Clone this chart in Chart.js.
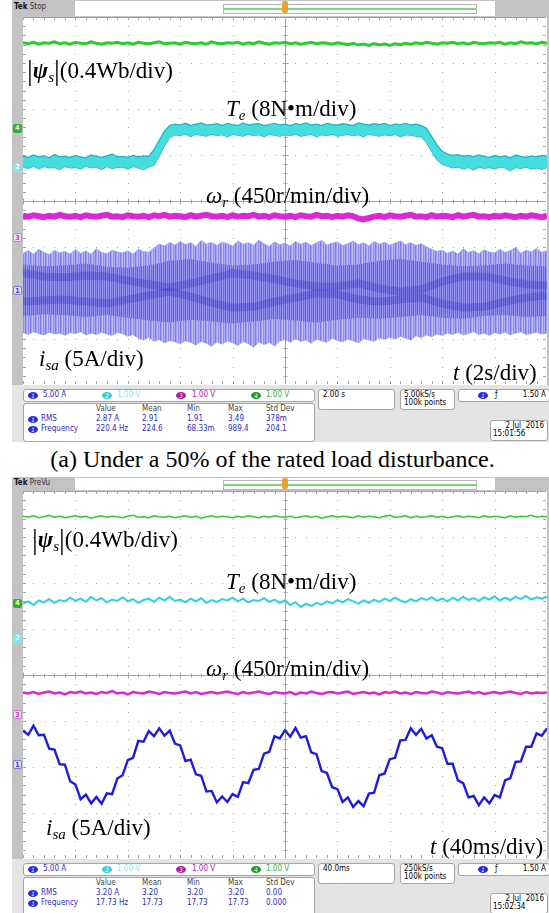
<!DOCTYPE html>
<html lang="en">
<head>
<meta charset="UTF-8">
<title>Load disturbance - scope captures</title>
<script src="https://cdn.jsdelivr.net/npm/chart.js"></script>
<style>
    body { margin: 0; width: 549px; height: 913px; position: relative; overflow: hidden; background: #fff; }
    .panel { position: absolute; left: 12px; width: 537px; background: #c3c3c3; overflow: hidden;
             font-family: "DejaVu Sans", sans-serif; font-stretch: condensed; font-size: 8px; }
    .panel canvas { position: absolute; left: 11px; background: #fff; }
    .hdrWhite { position: absolute; left: 63px; top: 1px; width: 420px; background: #fff; }
    .zoomBox { position: absolute; left: 148px; top: 3px; width: 252px; height: 8px; border: 1px solid #b8b8b8; }
    .zoomBox div { position: absolute; left: 0; right: 0; top: 3px; height: 2px; background: #7fd67f; }
    .trig { position: absolute; left: 270px; top: 1px; width: 6px; height: 12px; background: #f0a028; border-radius: 2px; }
    .tek { position: absolute; left: 2px; top: 2px; color: #333; }
    .tek b { color: #111; }
    .info { position: absolute; left: 0; width: 537px; height: 60px; background: #e4e4e4; }
    .box { position: absolute; background: #fff; border: 1px solid #a4a4a4; border-radius: 3px; }
    .box span { position: absolute; white-space: nowrap; line-height: 10px; }
    .ov { display: inline-block; width: 10px; height: 7px; border-radius: 50%; color: #fff; font-size: 6px;
          line-height: 7px; text-align: center; }
    .hd { color: #444; }
    .bl { color: #2e2ec4; }
    .mk { position: absolute; left: 1px; width: 9px; height: 9px; border-radius: 2px; font-size: 7px;
          line-height: 9px; text-align: center; font-weight: bold; box-sizing: border-box; }
    .lbl { position: absolute; font-family: "Liberation Serif", "Times New Roman", serif; font-size: 23px;
           line-height: 25px; white-space: nowrap; color: #000; }
    .lbl sub { font-size: 15px; vertical-align: -4px; line-height: 0; }
    .lbl .bar { font-size: 29px; vertical-align: -2px; line-height: 0; }
    #cap { position: absolute; left: 0; width: 545px; text-align: center; top: 446px;
           font-family: "Liberation Serif", "Times New Roman", serif; font-size: 24px; white-space: nowrap; }
</style>
</head>
<body>

<!-- (a) 2 s/div capture -->
<div class="panel" style="top:0;height:442px">
    <div class="hdrWhite" style="height:15px"><div class="zoomBox"><div></div></div></div>
    <div class="trig"></div>
    <div class="tek"><b>Tek</b> Stop</div>
    <canvas id="scopeTop" width="524" height="368" style="top:17px"></canvas>
    <div class="mk" style="top:124px;background:#2fb02f;color:#fff">4</div>
    <div class="mk" style="top:163px;background:#86e4ee;color:#fff">2</div>
    <div class="mk" style="top:233px;background:#f6dcf4;border:1px solid #d27ad0;color:#c040c0">3</div>
    <div class="mk" style="top:286px;background:#dedef8;border:1px solid #7a7ad6;color:#4040c0">1</div>
    <div class="info" style="top:385px">
        <div class="box" style="left:11px;top:4px;width:290px;height:11px">
            <span style="left:4px;top:1px"><i class="ov" style="background:#2a2ad8">1</i></span>
            <span style="left:19px;top:0" class="bl">5.00 A</span>
            <span style="left:78px;top:1px"><i class="ov" style="background:#36d0d8">2</i></span>
            <span style="left:93px;top:0;color:#8ee6ee">1.00 V</span>
            <span style="left:152px;top:1px"><i class="ov" style="background:#b0209e">3</i></span>
            <span style="left:168px;top:0;color:#b42aa8">1.00 V</span>
            <span style="left:227px;top:1px"><i class="ov" style="background:#239b23">4</i></span>
            <span style="left:242px;top:0;color:#38b038">1.00 V</span>
        </div>
        <div class="box" style="left:306px;top:4px;width:75px;height:19px"><span style="left:4px;top:0">2.00 s</span></div>
        <div class="box" style="left:388px;top:4px;width:53px;height:19px">
            <span style="left:3px;top:0">5.00kS/s</span><span style="left:3px;top:8px">100k points</span>
        </div>
        <div class="box" style="left:446px;top:4px;width:90px;height:11px">
            <span style="left:19px;top:1px"><i class="ov" style="background:#2a2ad8">1</i></span>
            <span style="left:36px;top:0">ƒ</span><span style="right:3px;top:0">1.50 A</span>
        </div>
        <div class="box" style="left:11px;top:18px;width:290px;height:37px">
            <span class="hd" style="left:72px;top:0">Value</span><span class="hd" style="left:118px;top:0">Mean</span>
            <span class="hd" style="left:163px;top:0">Min</span><span class="hd" style="left:204px;top:0">Max</span>
            <span class="hd" style="left:242px;top:0">Std Dev</span>
            <span style="left:4px;top:11px"><i class="ov" style="background:#2a2ad8">1</i></span>
            <span class="bl" style="left:17px;top:10px">RMS</span>
            <span class="bl" style="left:72px;top:10px">2.87 A</span><span class="bl" style="left:118px;top:10px">2.91</span>
            <span class="bl" style="left:163px;top:10px">1.91</span><span class="bl" style="left:204px;top:10px">3.49</span>
            <span class="bl" style="left:242px;top:10px">378m</span>
            <span style="left:4px;top:21px"><i class="ov" style="background:#2a2ad8">1</i></span>
            <span class="bl" style="left:17px;top:20px">Frequency</span>
            <span class="bl" style="left:72px;top:20px">220.4 Hz</span><span class="bl" style="left:118px;top:20px">224.6</span>
            <span class="bl" style="left:163px;top:20px">68.33m</span><span class="bl" style="left:204px;top:20px">989.4</span>
            <span class="bl" style="left:242px;top:20px">204.1</span>
        </div>
        <div class="box" style="left:478px;top:35px;width:56px;height:19px">
            <span style="right:3px;top:0">2 Jul&nbsp; 2016</span><span style="left:2px;top:8px">15:01:56</span>
        </div>
    </div>
</div>

<div class="lbl" style="left:27px;top:58px"><span class="bar">|</span><b><i>ψ</i></b><sub><i>s</i></sub><span class="bar">|</span>(0.4Wb/div)</div>
<div class="lbl" style="left:226px;top:96px"><i>T</i><sub><i>e</i></sub> (8N•m/div)</div>
<div class="lbl" style="left:206px;top:183px"><i>ω</i><sub><i>r</i></sub> (450r/min/div)</div>
<div class="lbl" style="left:39px;top:346px"><i>i</i><sub><i>sa</i></sub> (5A/div)</div>
<div class="lbl" style="left:453px;top:360px"><i>t</i> (2s/div)</div>

<div id="cap">(a) Under a 50% of the rated load disturbance.</div>

<!-- (b) 40 ms/div capture -->
<div class="panel" style="top:477px;height:436px">
    <div class="hdrWhite" style="height:12px"><div class="zoomBox" style="top:2px"><div></div></div></div>
    <div class="trig" style="height:11px"></div>
    <div class="tek" style="top:1px"><b>Tek</b> PreVu</div>
    <canvas id="scopeBot" width="524" height="368" style="top:14px"></canvas>
    <div class="mk" style="top:122px;background:#2fb02f;color:#fff">4</div>
    <div class="mk" style="top:157px;background:#86e4ee;color:#fff">2</div>
    <div class="mk" style="top:233px;background:#f6dcf4;border:1px solid #d27ad0;color:#c040c0">3</div>
    <div class="mk" style="top:283px;background:#dedef8;border:1px solid #7a7ad6;color:#4040c0">1</div>
    <div class="info" style="top:382px">
        <div class="box" style="left:11px;top:4px;width:290px;height:11px">
            <span style="left:4px;top:1px"><i class="ov" style="background:#2a2ad8">1</i></span>
            <span style="left:19px;top:0" class="bl">5.00 A</span>
            <span style="left:78px;top:1px"><i class="ov" style="background:#36d0d8">2</i></span>
            <span style="left:93px;top:0;color:#8ee6ee">1.00 V</span>
            <span style="left:152px;top:1px"><i class="ov" style="background:#b0209e">3</i></span>
            <span style="left:168px;top:0;color:#b42aa8">1.00 V</span>
            <span style="left:227px;top:1px"><i class="ov" style="background:#239b23">4</i></span>
            <span style="left:242px;top:0;color:#38b038">1.00 V</span>
        </div>
        <div class="box" style="left:306px;top:4px;width:75px;height:19px"><span style="left:4px;top:0">40.0ms</span></div>
        <div class="box" style="left:388px;top:4px;width:53px;height:19px">
            <span style="left:3px;top:0">250kS/s</span><span style="left:3px;top:8px">100k points</span>
        </div>
        <div class="box" style="left:446px;top:4px;width:90px;height:11px">
            <span style="left:19px;top:1px"><i class="ov" style="background:#2a2ad8">1</i></span>
            <span style="left:36px;top:0">ƒ</span><span style="right:3px;top:0">1.50 A</span>
        </div>
        <div class="box" style="left:11px;top:18px;width:290px;height:37px">
            <span class="hd" style="left:72px;top:0">Value</span><span class="hd" style="left:118px;top:0">Mean</span>
            <span class="hd" style="left:163px;top:0">Min</span><span class="hd" style="left:204px;top:0">Max</span>
            <span class="hd" style="left:242px;top:0">Std Dev</span>
            <span style="left:4px;top:11px"><i class="ov" style="background:#2a2ad8">1</i></span>
            <span class="bl" style="left:17px;top:10px">RMS</span>
            <span class="bl" style="left:72px;top:10px">3.20 A</span><span class="bl" style="left:118px;top:10px">3.20</span>
            <span class="bl" style="left:163px;top:10px">3.20</span><span class="bl" style="left:204px;top:10px">3.20</span>
            <span class="bl" style="left:242px;top:10px">0.00</span>
            <span style="left:4px;top:21px"><i class="ov" style="background:#2a2ad8">1</i></span>
            <span class="bl" style="left:17px;top:20px">Frequency</span>
            <span class="bl" style="left:72px;top:20px">17.73 Hz</span><span class="bl" style="left:118px;top:20px">17.73</span>
            <span class="bl" style="left:163px;top:20px">17.73</span><span class="bl" style="left:204px;top:20px">17.73</span>
            <span class="bl" style="left:242px;top:20px">0.000</span>
        </div>
        <div class="box" style="left:478px;top:34px;width:56px;height:19px">
            <span style="right:3px;top:0">2 Jul&nbsp; 2016</span><span style="left:2px;top:8px">15:02:34</span>
        </div>
    </div>
</div>

<div class="lbl" style="left:32px;top:527px"><span class="bar">|</span><b><i>ψ</i></b><sub><i>s</i></sub><span class="bar">|</span>(0.4Wb/div)</div>
<div class="lbl" style="left:226px;top:569px"><i>T</i><sub><i>e</i></sub> (8N•m/div)</div>
<div class="lbl" style="left:206px;top:656px"><i>ω</i><sub><i>r</i></sub> (450r/min/div)</div>
<div class="lbl" style="left:46px;top:815px"><i>i</i><sub><i>sa</i></sub> (5A/div)</div>
<div class="lbl" style="left:430px;top:834px"><i>t</i> (40ms/div)</div>

<script>
    // sample times, top capture (s, 2 s/div)
    const timeTop = [0,0.2,0.4,0.6,0.8,1,1.2,1.4,1.6,1.8,2,2.2,2.4,2.6,2.8,3,3.2,3.4,3.6,3.8,4,4.2,4.4,4.6,4.8,5,5.2,5.4,5.6,5.8,6,6.2,6.4,6.6,6.8,7,7.2,7.4,7.6,7.8,8,8.2,8.4,8.6,8.8,9,9.2,9.4,9.6,9.8,10,10.2,10.4,10.6,10.8,11,11.2,11.4,11.6,11.8,12,12.2,12.4,12.6,12.8,13,13.2,13.4,13.6,13.8,14,14.2,14.4,14.6,14.8,15,15.2,15.4,15.6,15.8,16,16.2,16.4,16.6,16.8,17,17.2,17.4,17.6,17.8,18,18.2,18.4,18.6,18.8,19,19.2,19.4,19.6,19.8,20];
    const timeTopCoarse = [0,0.8,1.6,2.4,3.2,4,4.8,5.6,6.4,7.2,8,8.8,9.6,10.4,11.2,12,12.8,13.6,14.4,15.2,16,16.8,17.6,18.4,19.2,20];
    // sample times, bottom capture (ms, 40 ms/div)
    const timeBot = [0,4,8,12,16,20,24,28,32,36,40,44,48,52,56,60,64,68,72,76,80,84,88,92,96,100,104,108,112,116,120,124,128,132,136,140,144,148,152,156,160,164,168,172,176,180,184,188,192,196,200,204,208,212,216,220,224,228,232,236,240,244,248,252,256,260,264,268,272,276,280,284,288,292,296,300,304,308,312,316,320,324,328,332,336,340,344,348,352,356,360,364,368,372,376,380,384,388,392,396,400];

    // screen positions in divisions (0 = bottom, 8 = top)
    const fluxTop = [7.44,7.42,7.45,7.41,7.44,7.43,7.46,7.42,7.44,7.41,7.45,7.43,7.42,7.46,7.43,7.41,7.44,7.43,7.45,7.42,7.44,7.41,7.45,7.43,7.42,7.44,7.46,7.42,7.43,7.44,7.41,7.45,7.43,7.42,7.44,7.41,7.46,7.43,7.42,7.44,7.43,7.45,7.41,7.44,7.42,7.46,7.43,7.41,7.44,7.43,7.45,7.42,7.44,7.41,7.43,7.45,7.42,7.44,7.43,7.41,7.44,7.42,7.40,7.43,7.39,7.41,7.38,7.42,7.39,7.41,7.38,7.42,7.40,7.43,7.41,7.44,7.42,7.45,7.43,7.41,7.44,7.43,7.45,7.42,7.44,7.41,7.45,7.43,7.42,7.44,7.43,7.45,7.41,7.44,7.42,7.46,7.43,7.44,7.42,7.45,7.43];
    const torqueTopHi = [4.97,4.95,5.00,4.96,4.98,4.94,5.01,4.96,4.97,4.95,4.99,4.96,4.94,5.00,4.97,4.95,4.98,5.02,4.96,4.97,4.95,4.99,4.96,4.98,4.97,5.12,5.32,5.52,5.64,5.67,5.65,5.69,5.64,5.67,5.70,5.65,5.66,5.68,5.64,5.69,5.66,5.64,5.70,5.65,5.67,5.68,5.64,5.66,5.69,5.65,5.67,5.64,5.68,5.66,5.70,5.65,5.67,5.64,5.69,5.66,5.65,5.68,5.66,5.64,5.70,5.67,5.65,5.68,5.66,5.69,5.64,5.67,5.66,5.69,5.65,5.67,5.64,5.58,5.40,5.22,5.08,5.02,4.99,5.01,4.97,4.99,4.96,5.00,4.97,4.95,4.99,4.96,4.98,4.94,5.00,4.97,4.95,4.98,4.96,4.99,4.97];
    const torqueTopLo = [4.74,4.71,4.76,4.70,4.75,4.72,4.73,4.69,4.75,4.72,4.73,4.70,4.76,4.72,4.74,4.69,4.75,4.71,4.73,4.74,4.70,4.75,4.72,4.68,4.74,4.78,4.98,5.20,5.38,5.44,5.42,5.46,5.40,5.45,5.43,5.41,5.46,5.42,5.44,5.40,5.45,5.43,5.41,5.46,5.42,5.44,5.40,5.45,5.43,5.41,5.44,5.42,5.46,5.41,5.43,5.45,5.40,5.44,5.42,5.46,5.41,5.43,5.45,5.42,5.44,5.40,5.46,5.43,5.41,5.44,5.42,5.45,5.40,5.44,5.43,5.41,5.40,5.28,5.08,4.90,4.80,4.76,4.72,4.74,4.70,4.73,4.68,4.74,4.71,4.73,4.70,4.74,4.72,4.66,4.73,4.71,4.74,4.70,4.72,4.69,4.73];
    const speedTop = [3.68,3.66,3.69,3.67,3.65,3.68,3.66,3.70,3.67,3.66,3.68,3.65,3.69,3.67,3.66,3.68,3.70,3.66,3.67,3.65,3.69,3.67,3.66,3.68,3.65,3.69,3.67,3.70,3.66,3.68,3.67,3.65,3.69,3.66,3.68,3.70,3.67,3.66,3.68,3.65,3.69,3.66,3.68,3.67,3.70,3.66,3.68,3.65,3.69,3.67,3.66,3.68,3.65,3.69,3.67,3.66,3.70,3.67,3.68,3.65,3.68,3.66,3.69,3.67,3.62,3.60,3.63,3.66,3.68,3.65,3.69,3.67,3.66,3.68,3.70,3.66,3.67,3.65,3.69,3.66,3.68,3.67,3.65,3.69,3.66,3.68,3.70,3.66,3.67,3.65,3.68,3.66,3.69,3.67,3.65,3.68,3.66,3.69,3.67,3.65,3.68];
    const currentTopHi = [2.86,2.92,2.84,2.95,2.88,2.83,2.93,2.87,2.90,2.85,2.94,2.86,2.91,2.84,2.96,2.88,2.85,2.93,2.89,2.87,2.92,2.84,2.95,2.90,2.88,2.98,3.06,3.02,3.10,3.04,3.12,3.05,3.09,3.01,3.14,3.06,3.10,3.03,3.11,3.07,3.02,3.13,3.06,3.09,3.04,3.15,3.07,3.01,3.11,3.05,3.08,3.02,3.12,3.06,3.10,3.03,3.09,3.14,3.04,3.08,3.11,3.03,3.07,3.13,3.05,3.09,3.02,3.12,3.06,3.10,3.04,3.08,3.13,3.05,3.09,3.03,3.07,3.00,2.95,2.90,2.93,2.86,2.91,2.84,2.96,2.88,2.92,2.85,2.94,2.89,2.87,2.95,2.88,2.92,2.99,2.86,2.93,2.89,2.97,2.88,2.92];
    const currentTopLo = [1.14,1.10,1.16,1.12,1.09,1.15,1.11,1.13,1.08,1.14,1.12,1.16,1.09,1.13,1.10,1.15,1.11,1.08,1.14,1.12,1.06,1.10,1.02,0.98,1.04,0.95,0.99,0.92,0.97,0.94,0.90,0.96,0.93,0.87,0.95,0.91,0.84,0.94,0.89,0.96,0.92,0.86,0.95,0.90,0.82,0.94,0.88,0.93,0.85,0.96,0.99,0.93,1.01,0.95,0.98,0.91,1.00,0.96,0.93,1.02,0.97,0.94,1.00,0.96,0.92,1.01,0.98,0.95,1.03,0.99,1.04,1.00,1.06,1.02,0.98,1.07,1.03,1.09,1.05,1.11,1.08,1.13,1.10,1.15,1.09,1.12,1.16,1.10,1.13,1.08,1.14,1.11,1.15,1.09,1.13,1.16,1.10,1.12,1.15,1.11,1.13];
    const currentTopInnerHi = [2.62,2.58,2.60,2.64,2.57,2.55,2.60,2.70,2.74,2.66,2.60,2.62,2.68,2.72,2.66,2.60,2.62,2.70,2.74,2.68,2.62,2.58,2.60,2.64,2.60,2.58];
    const currentTopInnerLo = [1.50,1.54,1.52,1.48,1.52,1.46,1.40,1.36,1.42,1.38,1.34,1.38,1.44,1.40,1.36,1.42,1.46,1.44,1.48,1.52,1.46,1.44,1.50,1.52,1.48,1.50];
    const currentTopBeatA = [2.43,2.36,2.34,2.38,2.36,2.27,2.19,2.12,2.21,2.32,2.43,2.38,2.30,2.21,2.14,2.14,2.21,2.10,2.03,2.08,2.25,2.36,2.36,2.27,2.19,2.16];
    const currentTopBeatB = [1.81,1.84,1.86,1.81,1.77,1.86,1.95,2.03,1.92,1.79,1.68,1.70,1.81,1.90,1.99,1.97,1.86,1.81,1.86,1.90,1.77,1.68,1.70,1.81,1.90,1.95];

    const fluxBot = [7.45,7.43,7.46,7.42,7.44,7.47,7.43,7.45,7.42,7.44,7.46,7.43,7.45,7.41,7.44,7.46,7.43,7.45,7.44,7.42,7.45,7.47,7.43,7.44,7.42,7.46,7.44,7.43,7.45,7.42,7.44,7.46,7.43,7.45,7.41,7.44,7.46,7.43,7.45,7.44,7.42,7.45,7.43,7.46,7.44,7.42,7.45,7.43,7.46,7.44,7.43,7.45,7.42,7.44,7.46,7.43,7.45,7.41,7.44,7.46,7.43,7.45,7.44,7.42,7.46,7.43,7.45,7.44,7.42,7.45,7.47,7.43,7.44,7.46,7.42,7.45,7.43,7.44,7.46,7.43,7.45,7.42,7.44,7.46,7.43,7.45,7.44,7.42,7.46,7.43,7.45,7.44,7.42,7.46,7.43,7.45,7.44,7.47,7.43,7.45,7.44];
    const torqueBot = [5.55,5.60,5.52,5.62,5.58,5.65,5.57,5.63,5.60,5.68,5.61,5.66,5.59,5.70,5.62,5.67,5.58,5.64,5.61,5.69,5.60,5.65,5.57,5.63,5.66,5.59,5.68,5.62,5.70,5.61,5.64,5.58,5.66,5.60,5.67,5.57,5.63,5.59,5.65,5.62,5.68,5.60,5.66,5.58,5.63,5.61,5.67,5.59,5.64,5.57,5.62,5.52,5.58,5.48,5.55,5.50,5.57,5.53,5.60,5.56,5.63,5.58,5.65,5.60,5.55,5.62,5.57,5.64,5.59,5.66,5.61,5.68,5.62,5.58,5.65,5.60,5.67,5.63,5.69,5.61,5.66,5.60,5.68,5.62,5.70,5.63,5.67,5.61,5.69,5.64,5.71,5.62,5.68,5.63,5.70,5.65,5.72,5.64,5.69,5.66,5.70];
    const speedBot = [3.62,3.60,3.63,3.59,3.62,3.64,3.60,3.62,3.58,3.63,3.61,3.64,3.60,3.62,3.59,3.63,3.61,3.65,3.60,3.62,3.58,3.63,3.61,3.60,3.64,3.62,3.59,3.63,3.61,3.60,3.62,3.64,3.60,3.63,3.59,3.61,3.63,3.60,3.62,3.64,3.61,3.59,3.63,3.60,3.62,3.64,3.61,3.59,3.63,3.61,3.60,3.63,3.58,3.62,3.60,3.64,3.61,3.59,3.62,3.63,3.60,3.62,3.64,3.59,3.61,3.63,3.60,3.62,3.58,3.63,3.61,3.64,3.60,3.62,3.59,3.63,3.61,3.60,3.64,3.62,3.59,3.63,3.61,3.60,3.62,3.64,3.60,3.63,3.59,3.61,3.63,3.60,3.62,3.64,3.61,3.59,3.63,3.60,3.62,3.61,3.62];
    const currentBot = [2.79,2.70,2.90,2.69,2.70,2.40,2.38,2.06,2.05,1.69,1.62,1.30,1.40,1.21,1.35,1.20,1.43,1.41,1.75,1.82,2.15,2.20,2.57,2.55,2.78,2.67,2.84,2.68,2.79,2.51,2.47,2.13,2.16,1.84,1.81,1.47,1.48,1.23,1.36,1.24,1.41,1.35,1.67,1.65,1.94,1.96,2.29,2.33,2.67,2.62,2.80,2.66,2.85,2.64,2.67,2.32,2.28,1.91,1.87,1.56,1.52,1.24,1.34,1.13,1.26,1.15,1.42,1.44,1.82,1.86,2.17,2.20,2.58,2.59,2.84,2.70,2.83,2.62,2.69,2.44,2.41,2.07,2.07,1.71,1.65,1.34,1.37,1.17,1.34,1.21,1.39,1.34,1.71,1.76,2.11,2.12,2.44,2.44,2.73,2.68,2.84];

    function pts(t, v) {
        return t.map((x, i) => ({ x: x, y: v[i] }));
    }

    function stripes(cols) {
        let c = document.createElement('canvas');
        c.width = cols.length; c.height = 4;
        let g = c.getContext('2d');
        cols.forEach((col, i) => { g.fillStyle = col; g.fillRect(i, 0, 1, 4); });
        return g.createPattern(c, 'repeat');
    }

    // oscilloscope graticule: dotted divisions, centre cross and edge ticks
    const graticule = {
        id: 'graticule',
        beforeDatasetsDraw(chart) {
            const { ctx, scales: { x, y } } = chart;
            let xs = [], ys = [];
            for (let i = 0; i <= 50; i++) xs.push(Math.round(x.getPixelForValue(x.min + (x.max - x.min) * i / 50)));
            for (let j = 0; j <= 40; j++) ys.push(Math.round(y.getPixelForValue(y.min + (y.max - y.min) * j / 40)));
            ctx.save();
            ctx.fillStyle = '#a9a9a9';
            for (let i = 5; i < 50; i += 5) {
                if (i === 25) continue;
                ys.forEach(py => ctx.fillRect(xs[i], py, 1, 1));
            }
            for (let j = 5; j < 40; j += 5) {
                if (j === 20) continue;
                xs.forEach(px => ctx.fillRect(px, ys[j], 1, 1));
            }
            const cx = xs[25] + 0.5, cy = ys[20] + 0.5;
            const top = ys[40], bot = ys[0] - 1, left = xs[0], right = xs[50] - 1;
            ctx.strokeStyle = '#a4a4a4';
            ctx.lineWidth = 1;
            ctx.beginPath();
            ctx.moveTo(left, cy); ctx.lineTo(right, cy);
            ctx.moveTo(cx, top); ctx.lineTo(cx, bot);
            ctx.moveTo(left, top + 0.5); ctx.lineTo(right, top + 0.5);
            xs.forEach((px, i) => {
                let p = px + 0.5, l = i % 5 === 0 ? 3 : 2;
                ctx.moveTo(p, cy - l); ctx.lineTo(p, cy + l);
                ctx.moveTo(p, top); ctx.lineTo(p, top + 3);
                ctx.moveTo(p, bot); ctx.lineTo(p, bot - 3);
            });
            ys.forEach((py, j) => {
                let p = py + 0.5, l = j % 5 === 0 ? 3 : 2;
                ctx.moveTo(cx - l, p); ctx.lineTo(cx + l, p);
                ctx.moveTo(left, p); ctx.lineTo(left + 3, p);
                ctx.moveTo(right, p); ctx.lineTo(right - 3, p);
            });
            ctx.stroke();
            ctx.restore();
        }
    };

    function scopeChart(id, xMax, datasets) {
        return new Chart(document.getElementById(id), {
            type: 'line',
            data: { datasets: datasets },
            options: {
                responsive: false,
                animation: false,
                layout: { padding: 0 },
                elements: { point: { radius: 0 }, line: { tension: 0 } },
                plugins: { legend: { display: false }, tooltip: { enabled: false } },
                scales: {
                    x: { type: 'linear', min: 0, max: xMax, display: false },
                    y: { type: 'linear', min: 0, max: 8, display: false }
                }
            },
            plugins: [graticule]
        });
    }

    scopeChart('scopeTop', 20, [
        { data: pts(timeTop, fluxTop), borderColor: '#2ccc2c', borderWidth: 3, fill: false, order: 1 },
        { data: pts(timeTop, torqueTopHi), borderColor: '#1fb0c0', borderWidth: 1.2, backgroundColor: '#44dede', fill: '+1', order: 1 },
        { data: pts(timeTop, torqueTopLo), borderColor: '#1fb0c0', borderWidth: 1.2, fill: false, order: 1 },
        { data: pts(timeTop, speedTop), borderColor: '#dc28d2', borderWidth: 6, fill: false, order: 1 },
        { data: pts(timeTop, currentTopHi), borderColor: '#a2a2f2', borderWidth: 1, backgroundColor: stripes(['#8e8eee', '#b0b0f5', '#7a7aea', '#a0a0f2', '#c0c0f8']), fill: '+1', order: 4 },
        { data: pts(timeTop, currentTopLo), borderColor: '#a2a2f2', borderWidth: 1, fill: false, order: 4 },
        { data: pts(timeTopCoarse, currentTopInnerHi), borderColor: 'rgba(0,0,0,0)', borderWidth: 0, backgroundColor: stripes(['#6a6ae4', '#8c8cee', '#5c5ce0', '#9a9af0']), fill: '+1', order: 3 },
        { data: pts(timeTopCoarse, currentTopInnerLo), borderColor: 'rgba(0,0,0,0)', borderWidth: 0, fill: false, order: 3 },
        { data: pts(timeTopCoarse, currentTopBeatA), borderColor: 'rgba(40,40,200,0.28)', borderWidth: 8, fill: false, order: 2 },
        { data: pts(timeTopCoarse, currentTopBeatB), borderColor: 'rgba(40,40,200,0.28)', borderWidth: 8, fill: false, order: 2 }
    ]);

    scopeChart('scopeBot', 400, [
        { data: pts(timeBot, fluxBot), borderColor: '#2ccc2c', borderWidth: 1.5, fill: false },
        { data: pts(timeBot, torqueBot), borderColor: '#2cd2dc', borderWidth: 2, fill: false },
        { data: pts(timeBot, speedBot), borderColor: '#dc28d2', borderWidth: 2.5, fill: false },
        { data: pts(timeBot, currentBot), borderColor: '#1c1ce4', borderWidth: 2.4, fill: false }
    ]);
</script>
</body>
</html>
